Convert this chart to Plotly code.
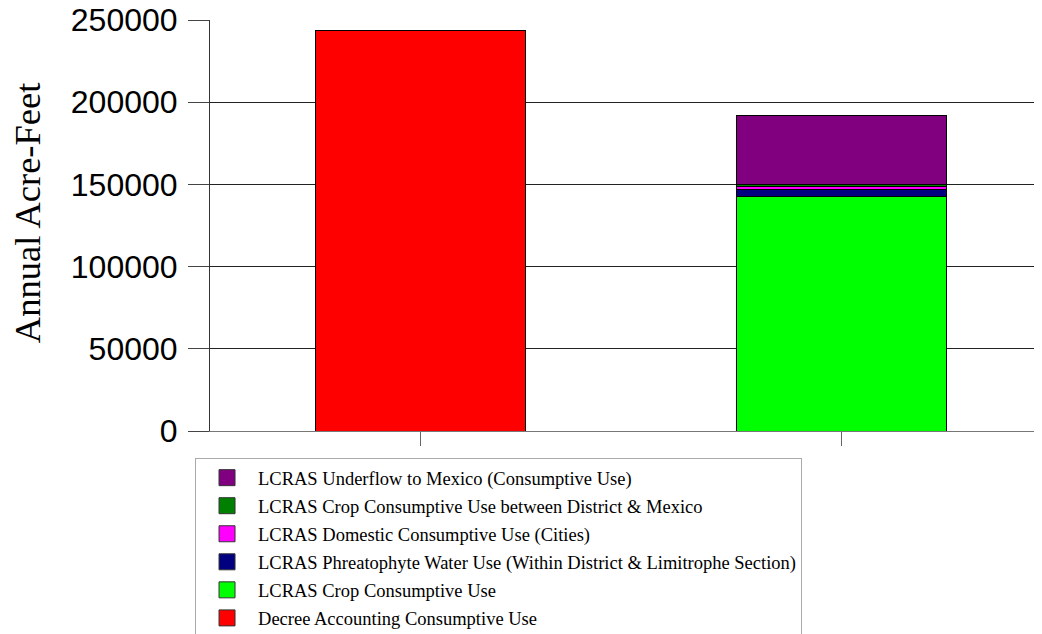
import plotly.graph_objects as go

categories = ["Decree Accounting", "LCRAS"]

decree = [243800, None]
crop = [None, 142800]
phreatophyte = [None, 4200]
domestic = [None, 1700]
crop_between = [None, 1500]
underflow = [None, 41800]

series = [
    ("Decree Accounting Consumptive Use", decree, "#FF0000"),
    ("LCRAS Crop Consumptive Use", crop, "#00FF00"),
    ("LCRAS Phreatophyte Water Use (Within District & Limitrophe Section)", phreatophyte, "#000080"),
    ("LCRAS Domestic Consumptive Use (Cities)", domestic, "#FF00FF"),
    ("LCRAS Crop Consumptive Use between District & Mexico", crop_between, "#008000"),
    ("LCRAS Underflow to Mexico (Consumptive Use)", underflow, "#800080"),
]

fig = go.Figure()
for i, (name, vals, color) in enumerate(series):
    fig.add_trace(go.Bar(
        x=categories, y=vals, name=name, width=0.5,
        marker=dict(color=color, line=dict(color="black", width=1)),
        showlegend=False,
    ))
    # legend entry with a bigger square than the bar legend allows
    fig.add_trace(go.Scatter(
        x=[None], y=[None], mode="markers", name=name, legendgroup="g%d" % i,
        legendrank=100 - i,
        marker=dict(symbol="square", size=16, color=color, line=dict(color="#333", width=1)),
    ))

# page body has an 8px margin, so the figure sits 8px right/down
fig.update_layout(
    width=1042, height=634,
    barmode="stack",
    plot_bgcolor="white", paper_bgcolor="white",
    margin=dict(l=202, r=8, t=12, b=211, autoexpand=False),
    legend=dict(
        x=-0.018, y=-0.066, xanchor="left", yanchor="top",
        traceorder="grouped", tracegroupgap=1,
        bordercolor="#aaaaaa", borderwidth=1,
        font=dict(family="Liberation Serif", size=18.5, color="black"),
        itemsizing="trace", itemwidth=52,
    ),
    annotations=[dict(
        text="Annual Acre-Feet", textangle=-90, showarrow=False,
        xref="paper", yref="paper", x=-0.22, y=0.53,
        xanchor="center", yanchor="middle",
        font=dict(family="Liberation Serif", size=36.5, color="black"),
    )],
)
fig.update_xaxes(
    range=[-0.5, 1.476], showticklabels=False, automargin=False,
    ticks="outside", ticklen=14, tickcolor="#666",
    showline=True, linecolor="#777", showgrid=False,
)
fig.update_yaxes(
    range=[0, 250000], dtick=50000, tickformat="d", automargin=False,
    tickfont=dict(family="Liberation Sans", size=32, color="black"),
    ticks="outside", ticklen=21, tickcolor="#444", ticklabelstandoff=4,
    ticklabeloverflow="allow",
    showline=True, linecolor="#333",
    showgrid=True, gridcolor="#222", gridwidth=1, zeroline=False,
)

fig.write_html("out.html")
